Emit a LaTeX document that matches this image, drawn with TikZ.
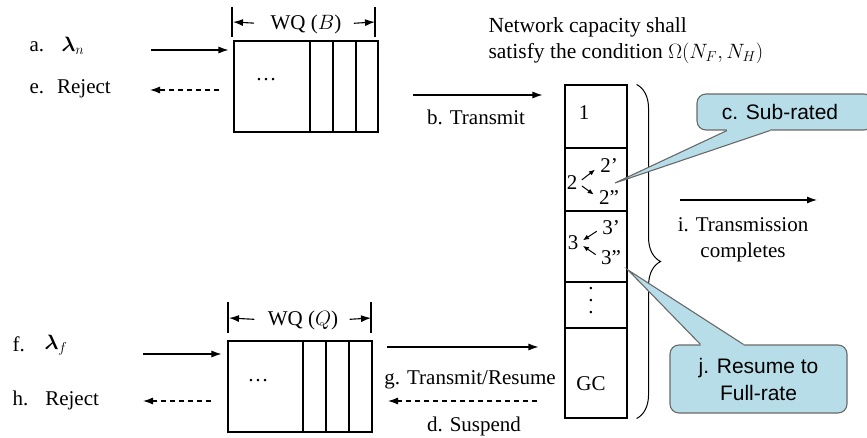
\documentclass[tikz,border=0pt]{standalone}
\usepackage{fontspec}
\usepackage{amsmath}
\setmainfont{Liberation Serif}
\newfontfamily\calloutfont{Liberation Sans}
\usetikzlibrary{arrows.meta,decorations.pathreplacing}
\definecolor{calloutfill}{RGB}{183,222,232}
\definecolor{calloutdraw}{RGB}{105,105,105}
\begin{document}
\begin{tikzpicture}[x=1pt, y=-1pt,
            font=\fontsize{21}{26}\selectfont,
            line width=1.1pt,
            txt/.style={inner sep=0pt},
            queue/.style={draw, minimum width=144pt, minimum height=91pt, inner sep=0pt},
            arr/.style={-{Latex[length=10pt,width=7pt]}},
            darr/.style={arr, dash pattern=on 5pt off 4pt},
            tinyarr/.style={-{Latex[length=6pt,width=5pt]}, line width=1pt},
            cbox/.style={draw=calloutdraw, fill=calloutfill, rounded corners=9pt, align=center,
                font=\calloutfont\fontsize{21}{27}\selectfont}
            ]
            \useasboundingbox (0,0) rectangle (867,438);

            % upper queue
            \node[queue] (qB) at (306,86.5) {};
            \foreach \x in {310,333,356} \draw (\x,41) -- (\x,132);
            \node[txt] (dotsB) at (266,80) {\dots};
            \coordinate (bL) at (233,22);
            \coordinate (bR) at (375,22);
            \draw (232,7) -- (232,37);
            \draw (375,7) -- (375,37);
            \node[txt] (wqB) at (306,24) {WQ ($B$)};
            \draw[arr, shorten <=16pt] (wqB.west) -- (bL);
            \draw[arr, shorten <=12pt] (wqB.east) -- (bR);

            \node[txt, anchor=west] (a) at (29,47) {a.};
            \node[txt, anchor=west] (lamN) at (61,46) {$\boldsymbol{\lambda}_n$};
            \node[txt, anchor=west] (e) at (29,89) {e.\hspace{13pt}Reject};
            \coordinate (aS) at (151,50);
            \coordinate (eE) at (150,90);
            \draw[arr, shorten >=5pt] (aS) -- (qB.west |- aS);
            \draw[darr, shorten <=14pt] (qB.west |- eE) -- (eE);

            % lower queue
            \node[queue] (qQ) at (300,386.5) {};
            \foreach \x in {303,326,349} \draw (\x,341) -- (\x,432);
            \node[txt] (dotsQ) at (258,381) {\dots};
            \coordinate (qL) at (229,318);
            \coordinate (qR) at (371,318);
            \draw (228,302) -- (228,333);
            \draw (371,302) -- (371,333);
            \node[txt] (wqQ) at (303,320) {WQ ($Q$)};
            \draw[arr, shorten <=13pt] (wqQ.west) -- (qL);
            \draw[arr, shorten <=11pt] (wqQ.east) -- (qR);

            \node[txt, anchor=west] (f) at (12,344) {f.};
            \node[txt, anchor=west] (lamF) at (44,345) {$\boldsymbol{\lambda}_f$};
            \node[txt, anchor=west] (h) at (12,400) {h.\hspace{17pt}Reject};
            \coordinate (fS) at (143,354);
            \coordinate (hE) at (143,401);
            \draw[arr, shorten >=6pt] (fS) -- (qQ.west |- fS);
            \draw[darr, shorten <=16pt] (qQ.west |- hE) -- (hE);

            % network
            \node[txt, anchor=north west, align=left, font=\fontsize{21.5}{26}\selectfont] (cond) at (488,17)
                {Network capacity shall\\satisfy the condition $\Omega(N_F,N_H)$};
            \node[draw, minimum width=62pt, minimum height=333pt, inner sep=0pt] (col) at (596,251.5) {};
            \foreach \y in {148,211,282,328} \draw (col.west |- 0,\y) -- (col.east |- 0,\y);
            \node[txt] (s1) at (584,113) {1};
            \node[txt] (s2) at (572,183) {2};
            \node[txt] (s2a) at (609,166) {2’};
            \node[txt] (s2b) at (609,198) {2”};
            \node[txt] (s3) at (573,243) {3};
            \node[txt] (s3a) at (611,228) {3’};
            \node[txt] (s3b) at (611,258) {3”};
            \node[txt, align=center, font=\fontsize{21}{12}\selectfont] (sdots) at (591,301) {.\\.\\.};
            \node[txt] (gc) at (591,384) {GC};
            \draw[tinyarr, shorten <=5pt, shorten >=6pt] (s2.east) -- (s2a.west);
            \draw[tinyarr, shorten <=5pt, shorten >=6pt] (s2.east) -- (s2b.west);
            \draw[tinyarr, shorten <=6pt, shorten >=5pt] (s3a.west) -- (s3.east);
            \draw[tinyarr, shorten <=6pt, shorten >=5pt] (s3b.west) -- (s3.east);
            \draw[line width=1pt, decorate, decoration={brace, amplitude=24pt, aspect=0.53}]
                ([xshift=9pt]col.north east) -- ([xshift=9pt]col.south east);

            \coordinate (bS) at (413,95);
            \node[txt] (b) at (476,117) {b. Transmit};
            \draw[arr, shorten >=22pt] (bS) -- (col.west |- bS);
            \coordinate (gS) at (387,347);
            \coordinate (dE) at (388,401);
            \node[txt] (g) at (470,380) {g. Transmit/Resume};
            \node[txt] (d) at (474,426) {d. Suspend};
            \draw[arr, shorten >=26pt] (gS) -- (col.west |- gS);
            \draw[darr, shorten <=27pt] (col.west |- dE) -- (dE);

            \coordinate (iS) at (680,200);
            \coordinate (iE) at (817,200);
            \draw[arr] (iS) -- (iE);
            \node[txt, align=center] (i) at (743,240) {i. Transmission\\completes};

            % callouts
            \node[cbox, minimum width=176pt, minimum height=36pt] (cSub) at (785,112) {\hspace*{-10pt}c. Sub-rated};
            \coordinate (cTip) at (615,183);
            \fill[calloutfill] ([xshift=-58pt,yshift=4pt]cSub.south) -- ([xshift=-58pt]cSub.south) -- (cTip)
                -- ([xshift=-15pt]cSub.south) -- ([xshift=-15pt,yshift=4pt]cSub.south) -- cycle;
            \draw[calloutdraw] ([xshift=-58pt]cSub.south) -- (cTip) -- ([xshift=-15pt]cSub.south);

            \node[cbox, minimum width=177pt, minimum height=68pt] (jRes) at (758.5,379) {j. Resume to\\Full-rate};
            \coordinate (jTip) at (628,270);
            \fill[calloutfill] ([xshift=-58pt,yshift=-4pt]jRes.north) -- ([xshift=-58pt]jRes.north) -- (jTip)
                -- ([xshift=-15pt]jRes.north) -- ([xshift=-15pt,yshift=-4pt]jRes.north) -- cycle;
            \draw[calloutdraw] ([xshift=-58pt]jRes.north) -- (jTip) -- ([xshift=-15pt]jRes.north);

\end{tikzpicture}
\end{document}
